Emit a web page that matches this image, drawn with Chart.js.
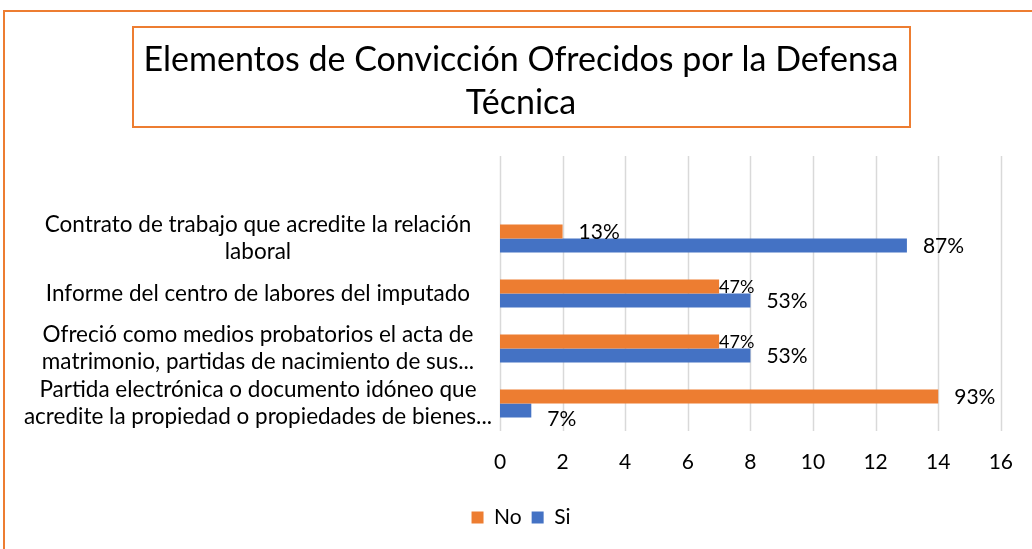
<!DOCTYPE html>
<html>
<head>
<meta charset="utf-8">
<script src="https://cdn.jsdelivr.net/npm/chart.js@4.4.1/dist/chart.umd.min.js"></script>
<style>
  html, body { margin: 0; padding: 0; background: #fff; overflow: hidden; }
  #wrap { position: relative; width: 1032px; height: 549px; }
  #frame { position: absolute; left: 3px; top: 10px; width: 1200px; height: 700px; border: 2px solid #ED7D31; box-sizing: border-box; }
  canvas { position: absolute; left: 0; top: 0; }
</style>
</head>
<body>
<div id="wrap">
  <div id="frame"></div>
  <canvas id="myChart" width="1032" height="549"></canvas>
</div>
<script>
const FONT = 'Lato';

const categories = [
  ['Contrato de trabajo que acredite la relación', 'laboral'],
  'Informe del centro de labores del imputado',
  ['Ofreció como medios probatorios el acta de', 'matrimonio, partidas de nacimiento de sus...'],
  ['Partida electrónica o documento idóneo que', 'acredite la propiedad o propiedades de bienes...']
];
const noValues = [2, 7, 7, 14];
const siValues = [13, 8, 8, 1];
const noLabels = ['13%', '47%', '47%', '93%'];
const siLabels = ['87%', '53%', '53%', '7%'];
const titleLines = ['Elementos de Convicción Ofrecidos por la Defensa', 'Técnica'];

// x grid lines, Excel draws them one band higher than the first bar
const gridPlugin = {
  id: 'gridPlugin',
  beforeDatasetsDraw(chart) {
    const ctx = chart.ctx;
    const x = chart.scales.x;
    const y = chart.scales.y;
    const band = Math.abs(y.getPixelForValue(1) - y.getPixelForValue(0));
    const top = chart.chartArea.top - band;
    ctx.save();
    ctx.strokeStyle = '#D9D9D9';
    ctx.lineWidth = 1.5;
    x.ticks.forEach(t => {
      const px = Math.round(x.getPixelForValue(t.value)) + 0.5;
      ctx.beginPath();
      ctx.moveTo(px, top);
      ctx.lineTo(px, chart.chartArea.bottom);
      ctx.stroke();
    });
    ctx.restore();
  }
};

// percentage labels at the end of each bar
const valueLabels = {
  id: 'valueLabels',
  afterDatasetsDraw(chart) {
    const ctx = chart.ctx;
    const texts = [noLabels, siLabels];
    ctx.save();
    ctx.textAlign = 'left';
    ctx.textBaseline = 'middle';
    ctx.fillStyle = '#000';
    chart.data.datasets.forEach((ds, i) => {
      chart.getDatasetMeta(i).data.forEach((bar, j) => {
        let offset = 16, size = 21, dy = 1;
        if (i === 0) {
          const other = chart.getDatasetMeta(1).data[j];
          if (other.x > bar.x && other.x - bar.x < 60) { offset = 0; size = 18; }
        } else if (bar.x - chart.chartArea.left < 40) {
          dy = 9;
        }
        ctx.font = size + 'px ' + FONT;
        ctx.fillText(texts[i][j], bar.x + offset, bar.y + dy);
      });
    });
    ctx.restore();
  }
};

// orange box round the title
const titleBox = {
  id: 'titleBox',
  afterDraw(chart) {
    const tb = chart.titleBlock;
    const ctx = chart.ctx;
    ctx.save();
    ctx.font = '34px ' + FONT;
    const w = Math.max(...titleLines.map(l => ctx.measureText(l).width)) + 22;
    const cx = (tb.left + tb.right) / 2;
    ctx.strokeStyle = '#ED7D31';
    ctx.lineWidth = 2;
    ctx.strokeRect(Math.round(cx - w / 2), 27, Math.round(w), 100);
    ctx.restore();
  }
};

const ctx = document.getElementById('myChart').getContext('2d');
new Chart(ctx, {
  type: 'bar',
  data: {
    labels: categories,
    datasets: [{
      label: 'No',
      data: noValues,
      backgroundColor: '#ED7D31',
      borderWidth: 0,
      categoryPercentage: 0.51,
      barPercentage: 1
    }, {
      label: 'Si',
      data: siValues,
      backgroundColor: '#4472C4',
      borderWidth: 0,
      categoryPercentage: 0.51,
      barPercentage: 1
    }]
  },
  options: {
    indexAxis: 'y',
    responsive: false,
    animation: false,
    layout: { padding: { left: 40, right: 30, top: 0, bottom: 11 } },
    plugins: {
      title: {
        display: true,
        text: titleLines,
        color: '#000',
        font: { family: FONT, size: 34, weight: 'normal', lineHeight: 1.25 },
        padding: { top: 39, bottom: 87 }
      },
      legend: {
        position: 'bottom',
        labels: {
          color: '#000',
          font: { family: FONT, size: 21 },
          boxWidth: 12,
          boxHeight: 12,
          padding: 10
        }
      },
      tooltip: { enabled: false }
    },
    scales: {
      x: {
        min: 0,
        max: 16,
        grid: { display: false, drawTicks: false },
        border: { display: false },
        afterFit(scale) { scale.height = 66; },
        ticks: { stepSize: 2, color: '#000', padding: 19, font: { family: FONT, size: 21 } }
      },
      y: {
        grid: { display: false, drawTicks: false },
        border: { display: false },
        afterFit(scale) {
          scale.width = 460;
          // let the long labels run past the left padding, as in the original
          scale._computeLabelArea = function () {};
        },
        ticks: {
          autoSkip: false,
          color: '#000',
          crossAlign: 'center',
          padding: 8,
          font: { family: FONT, size: 22.5, lineHeight: 1.22 }
        }
      }
    }
  },
  plugins: [gridPlugin, valueLabels, titleBox]
});
</script>
</body>
</html>
